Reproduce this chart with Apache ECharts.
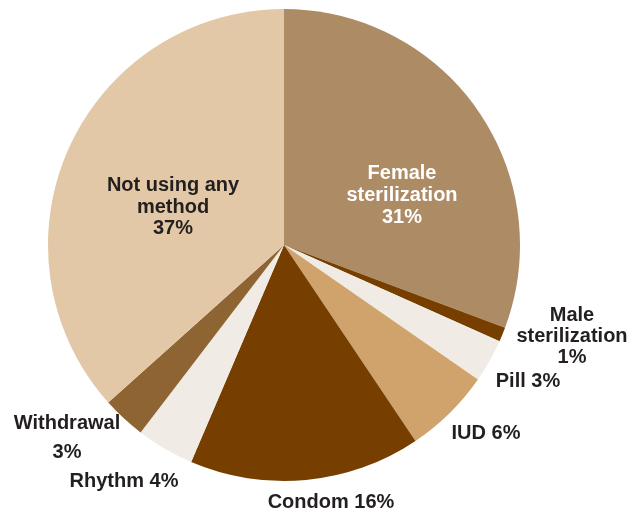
<!DOCTYPE html>
<html>
<head>
<meta charset="utf-8">
<script src="https://cdn.jsdelivr.net/npm/echarts@6/dist/echarts.min.js"></script>
<style>
  html, body { margin: 0; padding: 0; background: #ffffff; }
  #chart { width: 642px; height: 514px; }
</style>
</head>
<body>
<div id="chart"></div>
<script>
// Contraceptive method mix, share of women (%)
const categories = ['Female sterilization', 'Male sterilization', 'Pill', 'IUD', 'Condom', 'Rhythm', 'Withdrawal', 'Not using any method'];
const shares = [31, 1, 3, 6, 16, 4, 3, 37];
const labelNames = ['Female\nsterilization', 'Male\nsterilization', 'Pill', 'IUD', 'Condom', 'Rhythm', 'Withdrawal', 'Not using any\nmethod'];
const labelBreaks = ['\n', '\n', ' ', ' ', ' ', ' ', '\n', '\n'];

// Styling and label placement
const sliceColors = ['#ad8b65', '#763f00', '#f0ebe5', '#cfa36b', '#763f00', '#f0ebe5', '#8f6433', '#e2c8a6'];
const labelColors = ['#ffffff', '#231f20', '#231f20', '#231f20', '#231f20', '#231f20', '#231f20', '#231f20'];
const labelAnchors = [[402, 195], [572, 336], [528, 381], [486, 433], [331, 502], [124, 481], [67, 438], [173, 207]];
const labelLineHeights = [22, 21, 22, 22, 22, 22, 29, 21.5];

const chart = echarts.init(document.getElementById('chart'), null, { renderer: 'canvas' });

chart.setOption({
  animation: false,
  backgroundColor: '#ffffff',
  series: [{
    type: 'pie',
    center: [284, 245],
    radius: 236,
    startAngle: 90,
    clockwise: true,
    avoidLabelOverlap: false,
    silent: true,
    itemStyle: { borderWidth: 0 },
    labelLine: { show: false },
    label: {
      show: true,
      position: 'outside',
      fontFamily: 'Liberation Sans, Arial, sans-serif',
      fontWeight: 'bold',
      fontSize: 20,
      align: 'center'
    },
    labelLayout: function (params) {
      const p = labelAnchors[params.dataIndex];
      return { x: p[0], y: p[1], align: 'center', verticalAlign: 'middle' };
    },
    data: categories.map(function (name, i) {
      return {
        name: name,
        value: shares[i],
        itemStyle: { color: sliceColors[i] },
        label: {
          color: labelColors[i],
          lineHeight: labelLineHeights[i],
          formatter: labelNames[i] + labelBreaks[i] + shares[i] + '%'
        }
      };
    })
  }]
});
</script>
</body>
</html>
